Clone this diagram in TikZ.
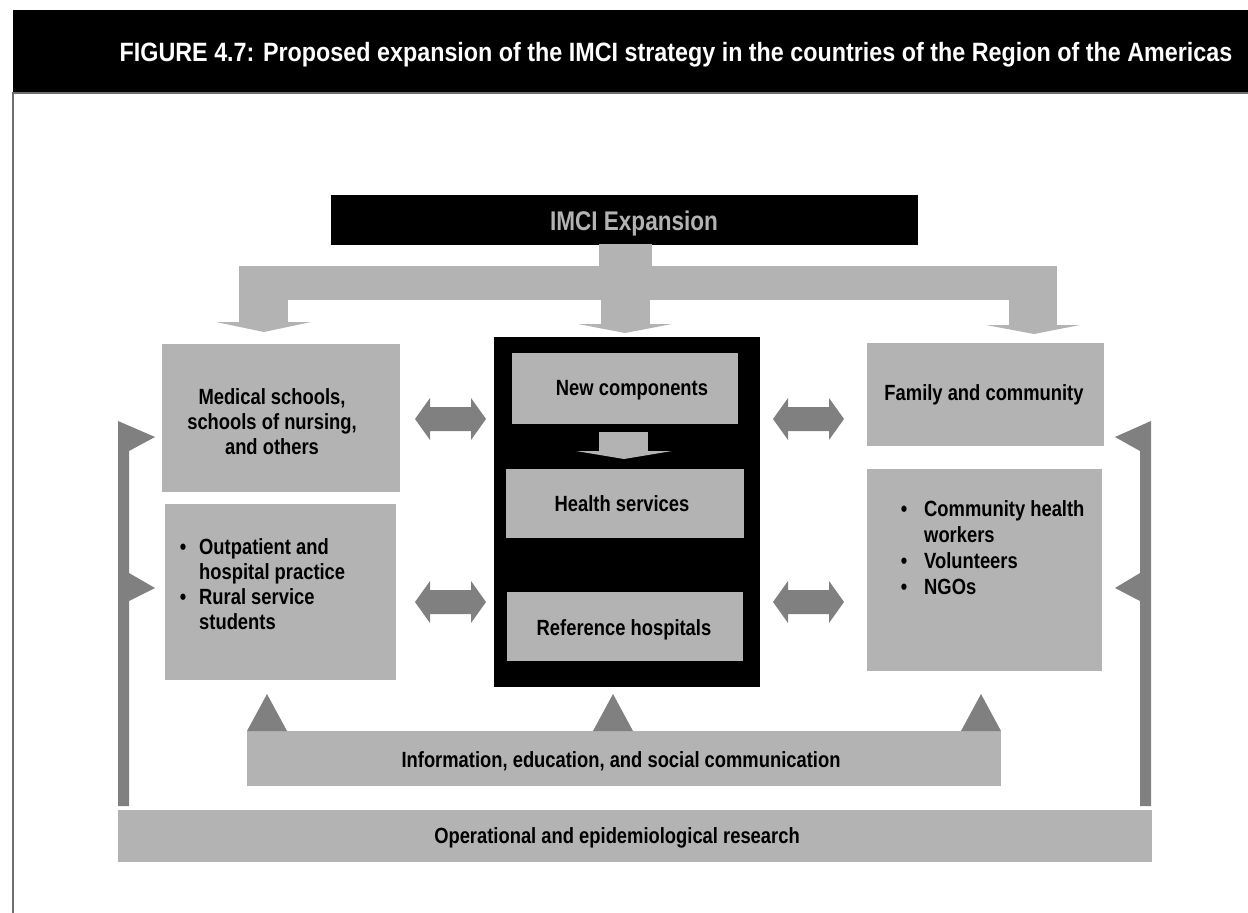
\documentclass[tikz,border=0pt]{standalone}
\usepackage{fontspec}
\newfontfamily\cf{Liberation Sans}[FakeStretch=0.835]
\newfontfamily\tf{Liberation Sans}[FakeStretch=0.88]
\definecolor{lg}{RGB}{179,179,179}
\definecolor{dg}{RGB}{128,128,128}
\definecolor{edgegray}{RGB}{110,110,110}
\begin{document}
\begin{tikzpicture}[x=1pt,y=-1pt,
  lbox/.style={fill=lg, draw=none, inner sep=0pt, anchor=north west},
  bbox/.style={fill=black, draw=none, inner sep=0pt, anchor=north west},
  txt/.style={font=\cf\bfseries\fontsize{22}{26}\selectfont, text=black, inner sep=0pt},
  ttl/.style={font=\tf\bfseries\fontsize{26.5}{30}\selectfont, text=white, inner sep=0pt},
  big/.style={font=\cf\bfseries\fontsize{27}{32}\selectfont, text=lg, inner sep=0pt},
  larrow/.style={fill=lg, draw=none},
  darrow/.style={fill=dg, draw=none}
]
\useasboundingbox (0,0) rectangle (1248,913);
\fill[white] (0,0) rectangle (1248,913);
% header band
\fill[black] (13,10) rectangle (1248,92);
\fill[edgegray] (13,92) rectangle (1248,94);
\fill[edgegray] (12,92) rectangle (14,913);
\node[ttl, anchor=base] (title) at (676,61) {FIGURE 4.7: Proposed expansion of the IMCI strategy in the countries of the Region of the Americas};

% IMCI box
\node[bbox, minimum width=587pt, minimum height=50pt] (imci) at (331,195) {};
\node[big, anchor=base] (imcit) at (634,230) {IMCI Expansion};

% top distribution arrow
\fill[larrow] (599,244) rectangle (652,268);
\fill[larrow] (239,266) rectangle (1057,300);
\fill[larrow] (239,299) rectangle (288,322);
\fill[larrow] (216,322) -- (311,322) -- (264,332) -- cycle;
\fill[larrow] (601,299) rectangle (650,324);
\fill[larrow] (578,324) -- (672,324) -- (625,333) -- cycle;
\fill[larrow] (1009,299) rectangle (1057,325);
\fill[larrow] (986,325) -- (1080,325) -- (1034,334) -- cycle;

% left boxes
\node[lbox, minimum width=238pt, minimum height=148pt] (b1) at (162,344) {};
\node[txt, anchor=base] (b1a) at (272,404) {Medical schools,};
\node[txt, anchor=base] (b1b) at (272,429) {schools of nursing,};
\node[txt, anchor=base] (b1c) at (272,454) {and others};

\node[lbox, minimum width=231pt, minimum height=176pt] (b2) at (165,504) {};
\node[txt, anchor=base] (b2u1) at (183,554) {•};
\node[txt, anchor=base west] (b2a) at (199,554) {Outpatient and};
\node[txt, anchor=base west] (b2b) at (199,579) {hospital practice};
\node[txt, anchor=base] (b2u2) at (183,604) {•};
\node[txt, anchor=base west] (b2c) at (199,604) {Rural service};
\node[txt, anchor=base west] (b2d) at (199,629) {students};

% center block
\node[bbox, minimum width=266pt, minimum height=350pt] (cen) at (494,337) {};
\node[lbox, minimum width=226pt, minimum height=71pt] (nc) at (512,353) {};
\node[txt, anchor=base] (nct) at (632,395) {New components};
\fill[larrow] (599,432) rectangle (648,452);
\fill[larrow] (576,451) -- (672,451) -- (624,459) -- cycle;
\node[lbox, minimum width=238pt, minimum height=69pt] (hs) at (506,469) {};
\node[txt, anchor=base] (hst) at (622,511) {Health services};
\node[lbox, minimum width=236pt, minimum height=69pt] (rh) at (507,592) {};
\node[txt, anchor=base] (rht) at (624,635) {Reference hospitals};

% right boxes
\node[lbox, minimum width=237pt, minimum height=103pt] (f1) at (867,343) {};
\node[txt, anchor=base] (f1t) at (984,400) {Family and community};
\node[lbox, minimum width=235pt, minimum height=202pt] (f2) at (867,469) {};
\node[txt, anchor=base] (f2u1) at (904,516) {•};
\node[txt, anchor=base west] (f2a) at (924,516) {Community health};
\node[txt, anchor=base west] (f2b) at (924,542) {workers};
\node[txt, anchor=base] (f2u2) at (904,568) {•};
\node[txt, anchor=base west] (f2c) at (924,568) {Volunteers};
\node[txt, anchor=base] (f2u3) at (904,594) {•};
\node[txt, anchor=base west] (f2d) at (924,594) {NGOs};

% double arrows
\foreach \xa/\ya in {415/419, 415/602, 773/419, 773/602}{
  \fill[darrow] (\xa,\ya) -- ++(15,-21) -- ++(0,9) -- ++(41,0) -- ++(0,-9)
    -- ++(15,21) -- ++(-15,21) -- ++(0,-9) -- ++(-41,0) -- ++(0,9) -- cycle;
}

% bottom boxes
\node[lbox, minimum width=754pt, minimum height=55pt] (info) at (247,731) {};
\node[txt, anchor=base] (infot) at (621,767) {Information, education, and social communication};
\node[lbox, minimum width=1034pt, minimum height=52pt] (oper) at (118,810) {};
\node[txt, anchor=base] (opert) at (617,843) {Operational and epidemiological research};

% up triangles
\fill[darrow] (247,731) -- (267,694) -- (287,731) -- cycle;
\fill[darrow] (593,731) -- (613,694) -- (633,731) -- cycle;
\fill[darrow] (961,731) -- (981,694) -- (1001,731) -- cycle;

% vertical feedback arrows
\fill[darrow] (118,806) -- (118,421) -- (155,437) -- (129,451) -- (129,573)
  -- (155,588) -- (129,601) -- (129,806) -- cycle;
\fill[darrow] (1151,806) -- (1151,421) -- (1115,437) -- (1140,451) -- (1140,573)
  -- (1115,588) -- (1140,601) -- (1140,806) -- cycle;
\end{tikzpicture}
\end{document}
